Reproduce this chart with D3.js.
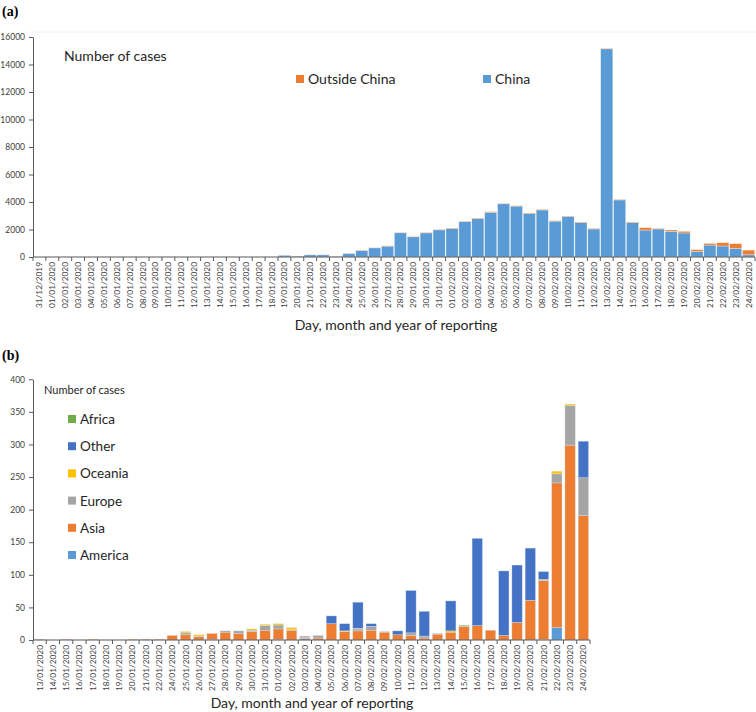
<!DOCTYPE html>
<html>
<head>
<meta charset="utf-8">
<script src="https://cdn.jsdelivr.net/npm/d3@7"></script>
<style>
  body { margin: 0; background: #fff; }
  svg text { font-family: Lato, "Open Sans", sans-serif; }
</style>
</head>
<body>
<svg id="svg" width="756" height="712"></svg>
<script>
// ---- panel (a): daily cases, China vs outside China ----
const daysA = ["31/12/2019"];
for (let i = 1; i <= 31; i++) daysA.push(String(i).padStart(2, "0") + "/01/2020");
for (let i = 1; i <= 24; i++) daysA.push(String(i).padStart(2, "0") + "/02/2020");

// values, one per day above
const china = [
  0, 0, 0, 0, 0, 0, 0, 0, 0, 0, 0, 0, 0, 0, 0, 0, 0, 0, 0, 130, 60,
  160, 160, 40, 255, 470, 665, 790, 1760, 1470, 1755, 1975, 2080,
  2570, 2800, 3250, 3870, 3700, 3160, 3420, 2610, 2950, 2500, 2040,
  15140, 4150, 2500, 1960, 2040, 1870, 1750, 410, 870, 800, 630, 160
];
const outside = [
  0, 0, 0, 0, 0, 0, 0, 0, 0, 0, 0, 0, 0, 0, 0, 0, 0, 0, 0, 2, 15,
  15, 15, 10, 15, 20, 20, 25, 35, 30, 40, 35, 30,
  25, 35, 45, 35, 35, 40, 45, 30, 30, 45, 45,
  40, 45, 45, 170, 45, 95, 115, 120, 120, 240, 340, 340
];
const yTicksA = [0, 2000, 4000, 6000, 8000, 10000, 12000, 14000, 16000];

// ---- panel (b): cases outside China by region ----
const daysB = [];
for (let i = 13; i <= 22; i++) daysB.push(String(i).padStart(2, "0") + "/01/2020");
for (let i = 24; i <= 31; i++) daysB.push(String(i).padStart(2, "0") + "/01/2020");
for (let i = 1; i <= 24; i++) daysB.push(String(i).padStart(2, "0") + "/02/2020");

const america = [0,0,0,0,0,0,0,0,0,0, 0,0,0,1,0,0,0,0, 1,0,2,0,0,0,0,0,0,0,0,0,0,0,0,0,0,0,0,0,1,19,0,0];
const asia    = [1,0,1,0,1,0,0,1,1,1, 7,8,5,9,12,10,13,15, 16,15,2,3,25,13,14,15,12,8,7,3,9,12,21,22,15,7,27,61,90,222,299,191];
const europe  = [0,0,0,0,0,0,0,0,0,0, 0,3,1,0,2,4,2,7, 6,1,2,4,0,0,3,6,1,0,4,3,1,0,1,0,0,0,0,0,1,14,61,58];
const oceania = [0,0,0,0,0,0,0,0,0,0, 0,2,2,0,0,0,2,2, 2,3,0,0,0,1,1,0,0,0,0,0,0,2,0,0,0,0,0,0,1,4,2,0];
const other   = [0,0,0,0,0,0,0,0,0,0, 0,0,0,0,0,0,0,0, 0,0,0,0,12,11,40,4,0,6,65,38,0,46,0,134,0,99,88,80,12,0,0,56];
const africa  = [0,0,0,0,0,0,0,0,0,0, 0,0,0,0,0,0,0,0, 0,0,0,0,0,0,0,0,0,0,0,0,0,0,1,0,0,0,0,0,0,0,0,0];
const yTicksB = [0, 50, 100, 150, 200, 250, 300, 350, 400];

const regions = ["America", "Asia", "Europe", "Oceania", "Other", "Africa"];
const regionColor = {
  America: "#5b9bd5", Asia: "#ed7d31", Europe: "#a5a5a5",
  Oceania: "#ffc000", Other: "#4472c4", Africa: "#70ad47"
};

const svg = d3.select("#svg");
const axisCol = "#595959";

// panel letters
svg.append("text").attr("x", 2).attr("y", 16).text("(a)")
  .style("font-family", "'Liberation Serif', serif").style("font-weight", "bold").style("font-size", "14px");
svg.append("text").attr("x", 2).attr("y", 360).text("(b)")
  .style("font-family", "'Liberation Serif', serif").style("font-weight", "bold").style("font-size", "14px");

// draws y axis, x axis with ticks between categories, and rotated labels
function drawAxes(g, x, y, yTicks, labelFont) {
  const [x0, x1] = x.range();
  const y0 = y.range()[0];
  const yAx = g.append("g").attr("transform", `translate(${x0},0)`)
    .call(d3.axisLeft(y).tickValues(yTicks).tickFormat(d3.format("d"))
      .tickSize(4).tickPadding(4).tickSizeOuter(0));
  yAx.select(".domain").attr("stroke", axisCol);
  yAx.selectAll(".tick line").attr("stroke", axisCol);
  yAx.selectAll(".tick text").attr("fill", "#404040").style("font-size", "8.5px");

  g.append("line").attr("x1", x0).attr("x2", x1).attr("y1", y0).attr("y2", y0)
    .attr("stroke", axisCol).attr("stroke-width", 1.2);
  const step = x.step();
  g.selectAll(".xtick").data(d3.range(x.domain().length + 1)).enter()
    .append("line").attr("class", "xtick")
    .attr("x1", i => x0 + i * step).attr("x2", i => x0 + i * step)
    .attr("y1", y0).attr("y2", y0 + 4).attr("stroke", axisCol);
  g.selectAll(".xlab").data(x.domain()).enter()
    .append("text").attr("class", "xlab")
    .attr("transform", d => `translate(${x(d) + x.bandwidth() / 2 + 3},${y0 + 5}) rotate(-90)`)
    .attr("text-anchor", "end")
    .attr("fill", "#404040")
    .style("font-size", labelFont)
    .text(d => d);
}

// ---- chart (a) ----
{
  const g = svg.append("g");
  const x = d3.scaleBand().domain(daysA).range([33, 755]).paddingInner(0.06).paddingOuter(0.03);
  const y = d3.scaleLinear().domain([0, 16000]).range([257, 37]);

  g.append("line").attr("x1", 30).attr("x2", 756).attr("y1", 32).attr("y2", 32)
    .attr("stroke", "#f2f2f2");

  const stackA = d3.stack().keys(["china", "outside"])(
    daysA.map((d, i) => ({ day: d, china: china[i], outside: outside[i] })));
  const colA = { china: "#5b9bd5", outside: "#ed7d31" };

  g.selectAll(".layer").data(stackA).enter()
    .append("g").attr("fill", s => colA[s.key])
    .selectAll("rect").data(s => s).enter()
    .append("rect")
    .attr("x", d => x(d.data.day))
    .attr("width", x.bandwidth())
    .attr("y", d => y(d[1]))
    .attr("height", d => Math.max(0, y(d[0]) - y(d[1])))
    .attr("stroke", "#ffffff").attr("stroke-opacity", 0.5).attr("stroke-width", 0.6);

  drawAxes(g, x, y, yTicksA, "8.3px");

  g.append("text").attr("x", 64).attr("y", 61).text("Number of cases")
    .attr("fill", "#262626").style("font-size", "14px");

  const legA = [["Outside China", "#ed7d31", 296], ["China", "#5b9bd5", 483]];
  legA.forEach(([lab, c, lx]) => {
    g.append("rect").attr("x", lx).attr("y", 75).attr("width", 8).attr("height", 8).attr("fill", c);
    g.append("text").attr("x", lx + 12).attr("y", 84).text(lab)
      .attr("fill", "#262626").style("font-size", "14px");
  });

  g.append("text").attr("x", 396).attr("y", 330).attr("text-anchor", "middle")
    .text("Day, month and year of reporting").attr("fill", "#262626").style("font-size", "14px");
}

// ---- chart (b) ----
{
  const g = svg.append("g");
  const x = d3.scaleBand().domain(daysB).range([33, 590]).paddingInner(0.22).paddingOuter(0.11);
  const y = d3.scaleLinear().domain([0, 400]).range([640, 379.3]);

  const series = { America: america, Asia: asia, Europe: europe, Oceania: oceania, Other: other, Africa: africa };
  const rows = daysB.map((d, i) => {
    const r = { day: d };
    regions.forEach(k => r[k] = series[k][i]);
    return r;
  });
  const stackB = d3.stack().keys(regions)(rows);

  g.selectAll(".layer").data(stackB).enter()
    .append("g").attr("fill", s => regionColor[s.key])
    .selectAll("rect").data(s => s.filter(d => d[1] > d[0])).enter()
    .append("rect")
    .attr("x", d => x(d.data.day))
    .attr("width", x.bandwidth())
    .attr("y", d => y(d[1]))
    .attr("height", d => y(d[0]) - y(d[1]))
    .attr("stroke", "#dce6f2").attr("stroke-opacity", 0.6).attr("stroke-width", 0.6);

  drawAxes(g, x, y, yTicksB, "8.3px");

  g.append("text").attr("x", 44).attr("y", 394).text("Number of cases")
    .attr("fill", "#262626").style("font-size", "11px");

  const legendOrder = regions.slice().reverse();
  const ly = d3.scalePoint().domain(legendOrder).range([419, 555]);
  legendOrder.forEach(k => {
    g.append("rect").attr("x", 68).attr("y", ly(k) - 4).attr("width", 8).attr("height", 8)
      .attr("fill", regionColor[k]);
    g.append("text").attr("x", 80).attr("y", ly(k) + 5).text(k)
      .attr("fill", "#262626").style("font-size", "13.5px");
  });

  g.append("text").attr("x", 312).attr("y", 708).attr("text-anchor", "middle")
    .text("Day, month and year of reporting").attr("fill", "#262626").style("font-size", "14px");
}
</script>
</body>
</html>
